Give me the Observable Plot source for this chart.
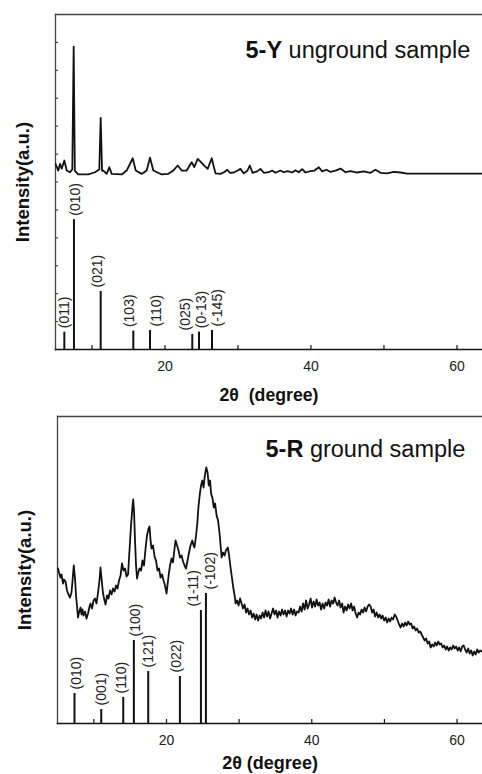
<!DOCTYPE html>
<html><head><meta charset="utf-8">
<script src="https://cdn.jsdelivr.net/npm/d3@7"></script>
<script src="https://cdn.jsdelivr.net/npm/@observablehq/plot@0.6"></script>
<style>
body{margin:0;background:#fff;}
#chart svg{display:block;}
</style>
</head><body><div id="chart"></div>
<script>
// ---------- data: 5-Y unground sample ----------
const ungroundTheta = [5.0,5.38,5.62,5.85,6.21,6.53,6.99,7.3,7.49,7.65,8.12,9.49,10.41,11.0,11.19,11.38,11.55,12.01,12.37,12.70,14.07,14.75,15.58,15.99,16.81,17.49,17.95,18.40,19.55,20.42,21.14,21.74,22.29,22.97,23.66,24.01,24.48,24.93,25.38,25.85,26.40,26.92,27.60,28.15,28.52,28.88,29.42,29.97,30.34,30.79,31.26,31.62,31.99,32.63,33.08,33.53,34.22,34.68,35.14,35.82,36.27,36.82,37.42,37.88,38.33,38.79,39.25,39.93,40.48,41.07,41.53,42.12,42.67,43.36,44.04,44.73,45.41,46.33,47.23,48.15,48.84,49.52,50.44,51.34,52.26,53.18,56.82,63.49];
const ungroundI = [6.65,6.41,6.65,6.48,6.77,6.41,6.35,6.45,10.85,6.40,6.27,6.27,6.35,6.45,8.30,6.40,6.41,6.29,6.53,6.29,6.27,6.41,6.85,6.41,6.29,6.41,6.87,6.41,6.27,6.29,6.41,6.59,6.41,6.41,6.71,6.53,6.83,6.71,6.59,6.47,6.85,6.31,6.29,6.36,6.44,6.33,6.34,6.41,6.47,6.31,6.39,6.59,6.33,6.38,6.47,6.33,6.35,6.41,6.33,6.41,6.35,6.39,6.34,6.42,6.35,6.46,6.34,6.39,6.41,6.53,6.38,6.44,6.36,6.41,6.48,6.35,6.39,6.34,6.38,6.33,6.44,6.33,6.31,6.36,6.34,6.30,6.30,6.30];
const ungroundHkl = ["(011)","(010)","(021)","(103)","(110)","(025)","(0-13)","(-145)"];
const ungroundHklTheta = [6.21,7.53,11.19,15.66,17.95,23.74,24.66,26.44];
const ungroundHklI = [0.62,4.65,2.08,0.66,0.68,0.54,0.62,0.68];

// ---------- data: 5-R ground sample ----------
const groundTheta = [5.07,5.21,5.41,5.55,5.76,5.90,6.10,6.31,6.51,6.72,6.93,7.07,7.24,7.41,7.55,7.69,7.82,7.96,8.17,8.30,8.44,8.58,8.79,8.99,9.20,9.41,9.54,9.75,9.96,10.16,10.37,10.58,10.78,10.92,11.06,11.27,11.47,11.61,11.82,12.02,12.23,12.44,12.64,12.85,13.06,13.26,13.47,13.68,13.88,14.09,14.30,14.50,14.71,14.91,15.12,15.33,15.42,15.53,15.67,15.81,15.95,16.08,16.29,16.50,16.70,16.91,17.12,17.32,17.53,17.67,17.81,17.94,18.15,18.36,18.56,18.77,18.98,19.18,19.39,19.60,19.80,20.01,20.15,20.33,20.49,20.70,20.90,21.11,21.25,21.46,21.66,21.87,22.08,22.28,22.49,22.69,22.90,23.08,23.31,23.55,23.73,23.86,24.07,24.24,24.42,24.60,24.76,24.93,25.11,25.28,25.48,25.66,25.82,26.00,26.14,26.34,26.52,26.69,26.90,27.10,27.31,27.45,27.59,27.79,28.00,28.18,28.45,28.62,28.82,29.03,29.19,29.38,29.51,29.72,29.92,30.13,30.34,30.54,30.75,30.96,31.16,31.37,31.58,31.78,31.99,32.20,32.40,32.61,32.82,33.02,33.23,33.44,33.64,33.85,34.05,34.26,34.47,34.67,34.88,35.09,35.29,35.50,35.71,35.91,36.12,36.33,36.53,36.74,36.95,37.15,37.36,37.57,37.77,37.98,38.19,38.39,38.60,38.80,39.01,39.22,39.43,39.63,39.84,40.04,40.25,40.46,40.66,40.87,41.08,41.28,41.49,41.70,41.90,42.11,42.32,42.52,42.73,42.94,43.14,43.35,43.56,43.76,43.97,44.18,44.38,44.59,44.80,45.00,45.21,45.42,45.62,45.83,46.04,46.24,46.45,46.65,46.86,47.07,47.27,47.48,47.69,47.89,48.10,48.31,48.51,48.72,48.93,49.13,49.34,49.55,49.75,49.96,50.17,50.37,50.58,50.79,50.99,51.20,51.41,51.61,51.82,52.03,52.23,52.44,52.65,52.85,53.06,53.27,53.47,53.68,53.89,54.09,54.30,54.50,54.71,54.92,55.12,55.33,55.54,55.74,55.95,56.16,56.36,56.57,56.78,56.98,57.19,57.40,57.60,57.81,58.01,58.22,58.43,58.63,58.84,59.05,59.25,59.46,59.67,59.87,60.08,60.29,60.49,60.70,60.91,61.11,61.32,61.53,61.73,61.94,62.15,62.35,62.56,62.77,62.97,63.18,63.39];
const groundI = [155,151,146,149,140,144,142,133,129,126,131,143,158,145,128,117,106,111,116,109,114,108,112,105,110,117,120,115,123,125,120,131,143,156,145,130,123,119,128,125,133,129,135,132,138,135,143,148,160,153,155,147,149,173,198,218,224,213,183,158,145,150,155,153,163,158,175,188,195,197,183,175,178,167,163,153,155,146,149,143,138,130,139,150,158,165,161,175,183,178,173,166,168,162,158,155,163,170,178,183,178,176,188,200,218,230,238,243,236,248,256,251,238,243,230,225,216,220,208,203,190,178,166,171,168,173,176,168,156,145,136,128,120,123,118,125,120,115,119,111,115,109,113,106,110,104,109,103,108,105,111,106,113,107,112,105,110,115,109,113,106,112,108,114,109,113,107,113,110,115,109,114,108,112,111,117,112,120,114,123,115,119,125,116,122,117,124,118,121,114,120,115,121,118,124,117,123,120,126,121,118,123,116,120,111,117,113,119,115,120,113,117,110,106,111,109,114,111,116,112,117,119,117,111,114,107,111,106,109,105,108,103,106,101,105,102,106,104,109,107,103,99,96,100,97,101,98,102,99,100,95,97,93,95,91,92,89,86,83,85,80,82,76,79,77,81,78,82,79,80,76,78,74,77,73,76,74,78,75,77,73,76,72,77,78,74,71,75,70,73,68,72,69,74,71,73,72];
const groundHkl = ["(010)","(001)","(110)","(100)","(121)","(022)","(1-11)","(-102)"];
const groundHklTheta = [7.34,11.02,14.05,15.51,17.49,21.85,24.74,25.43];
const groundHklI = [30,14,26,83,52,47,113,130];

// axis ticks / texts
const xMajorTicks = [20,40,60];
const xMinorTicks = [10,20,30,40,50,60];
const yTicksTop = [1,2,3,4,5,6,7,8,9,10,11];
const xLabel = "2θ  (degree)";
const xLabelBottom = "2θ (degree)";
const yLabel = "Intensity(a.u.)";

// ---------- style ----------
const W = 482;
const FONT = "'Liberation Sans', Arial, Helvetica, sans-serif";
const ink = "#111";
const frameInk = "#444";
const labelShiftTop = [0, 2, -3, -4, 6, -7, 3, 6];
const labelShiftBottom = [2, 0, -2, 2, 0, -3, -7, 5];

function textWidth(str, font){
  const c = document.createElement("canvas").getContext("2d");
  c.font = font; return c.measureText(str).width;
}

function panel({curve, sticks, yDomain, marginLeft, marginTop, plotH, marginBottom, leftTicks, title, titleX, titleY, xTitle, xTitleSize, xTitleDy, shifts}) {
  const height = marginTop + plotH + marginBottom;
  const innerW = W - marginLeft;
  const tSize = 23.5;
  const b = textWidth(title[0] + " ", `bold ${tSize}px ${FONT}`);
  const marks = [
    Plot.frame({anchor: "top", stroke: frameInk, strokeWidth: 1.3}),
    Plot.frame({anchor: "left", stroke: frameInk, strokeWidth: 1.3}),
    Plot.frame({anchor: "bottom", stroke: ink, strokeWidth: 1.5}),
    Plot.tickX(xMinorTicks, {x: d => d, insetTop: plotH - 4, stroke: ink, strokeWidth: 1.2}),
    Plot.axisX(xMajorTicks, {tickSize: 0, tickPadding: 12, fontSize: 14, fill: "#222", label: null}),
    Plot.line(curve, {x: "x", y: "y", stroke: ink, strokeWidth: 1.8, clip: true}),
    Plot.ruleX(sticks, {x: "x", y1: 0, y2: "y", stroke: ink, strokeWidth: 2}),
    ...sticks.map((s, i) => Plot.text([s], {x: "x", y: "y", text: "label", rotate: -90, textAnchor: "start", lineAnchor: "middle",
      dy: -4, dx: shifts[i], fontSize: 14, fill: "#222"})),
    Plot.text([title[0]], {frameAnchor: "top-left", dx: titleX, dy: titleY, textAnchor: "start", lineAnchor: "middle", fontSize: tSize, fontWeight: "bold", fill: ink}),
    Plot.text([title[1]], {frameAnchor: "top-left", dx: titleX + b, dy: titleY, textAnchor: "start", lineAnchor: "middle", fontSize: tSize, fill: ink}),
    Plot.text([yLabel], {frameAnchor: "left", rotate: -90, dx: -32, textAnchor: "middle", lineAnchor: "middle", fontSize: 18.5, fontWeight: "bold", fill: ink}),
    Plot.text([xTitle], {frameAnchor: "bottom", dy: xTitleDy, textAnchor: "middle", lineAnchor: "middle", fontSize: xTitleSize, fontWeight: "bold", fill: ink})
  ];
  if (leftTicks) marks.push(Plot.tickY(leftTicks, {y: d => d, insetRight: innerW - 3, stroke: frameInk, strokeWidth: 1.2}));
  return Plot.plot({
    width: W, height,
    marginLeft, marginRight: 0, marginTop, marginBottom,
    style: {fontFamily: FONT, background: "#fff", overflow: "visible"},
    x: {domain: [5, 63.5], axis: null},
    y: {domain: yDomain, axis: null},
    marks
  });
}

const topCurve = ungroundTheta.map((x, i) => ({x, y: ungroundI[i]}));
const topSticks = ungroundHkl.map((label, i) => ({label, x: ungroundHklTheta[i], y: ungroundHklI[i]}));
const botCurve = groundTheta.map((x, i) => ({x, y: groundI[i]}));
const botSticks = groundHkl.map((label, i) => ({label, x: groundHklTheta[i], y: groundHklI[i]}));

const chart = document.getElementById("chart");
chart.append(panel({curve: topCurve, sticks: topSticks, yDomain: [0, 12], marginLeft: 55, marginTop: 14, plotH: 335, marginBottom: 55,
  leftTicks: yTicksTop, title: ["5-Y", "unground sample"], titleX: 190, titleY: 36, xTitle: xLabel, xTitleSize: 17.7, xTitleDy: 46, shifts: labelShiftTop}));
chart.append(panel({curve: botCurve, sticks: botSticks, yDomain: [0, 307], marginLeft: 57, marginTop: 12, plotH: 307, marginBottom: 51,
  leftTicks: null, title: ["5-R", "ground sample"], titleX: 208, titleY: 33, xTitle: xLabelBottom, xTitleSize: 18, xTitleDy: 40, shifts: labelShiftBottom}));
</script></body></html>
